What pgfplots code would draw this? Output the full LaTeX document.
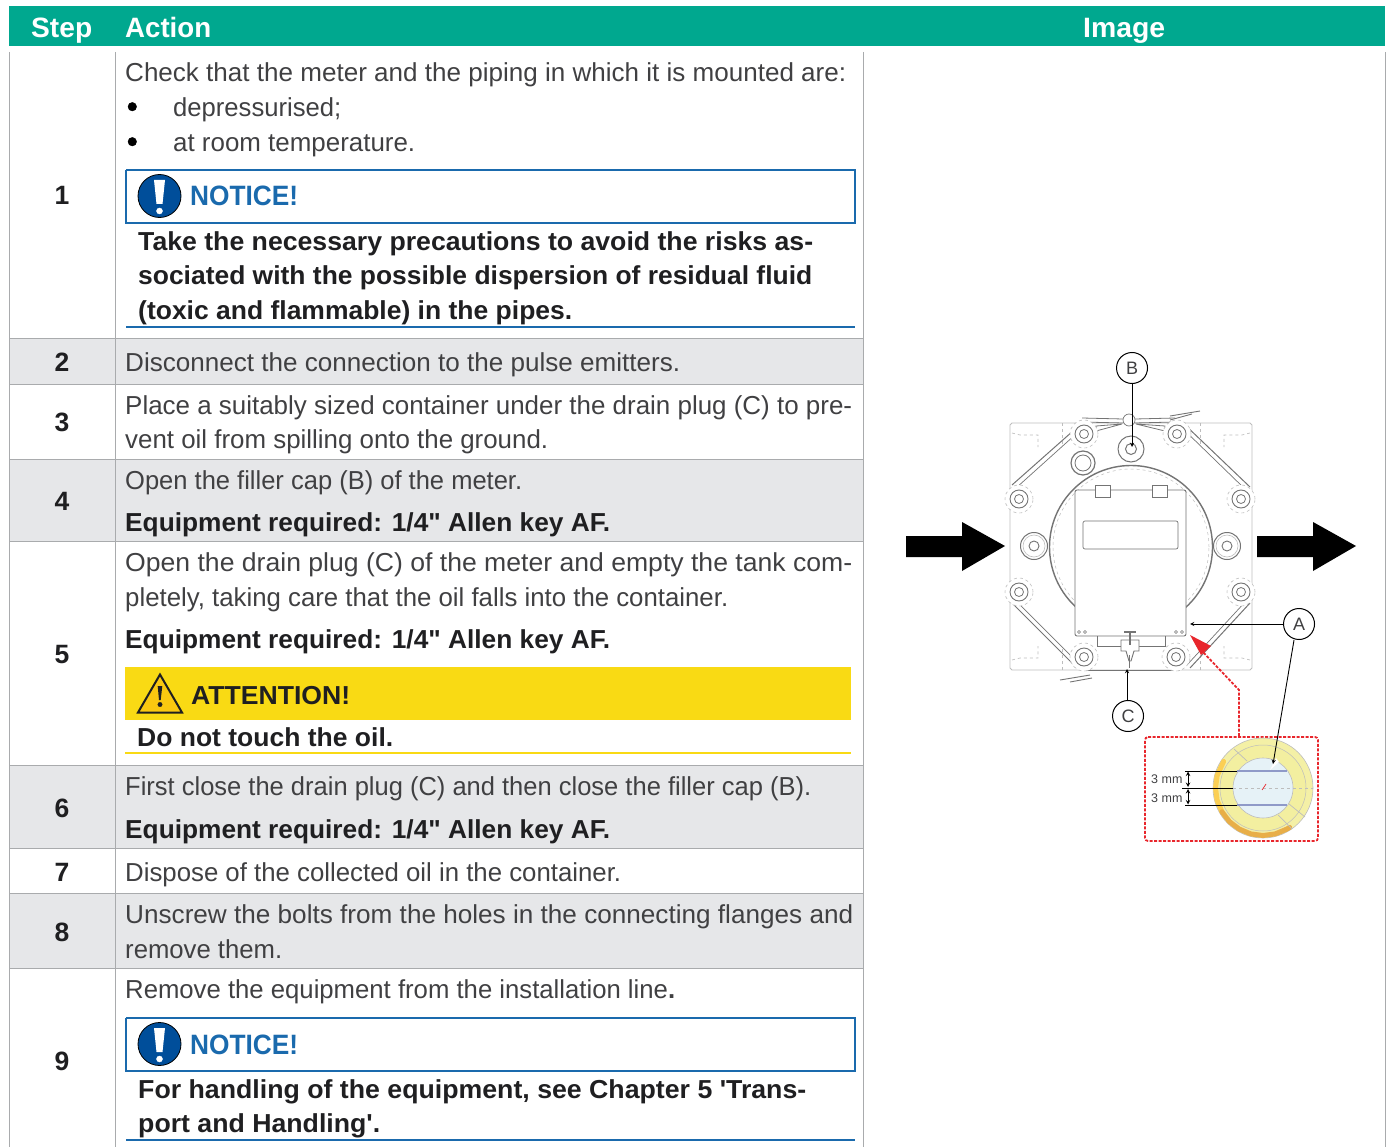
\documentclass[border=0pt]{standalone}
\usepackage{graphicx}
\usepackage{pgfplots}
\pgfplotsset{compat=1.18}
\usepackage{fontspec}
\setmainfont{Liberation Sans}[Ligatures=TeXOff]
\definecolor{hdr}{HTML}{00A88F}
\definecolor{rowg}{HTML}{E6E7E9}
\definecolor{rule}{HTML}{A9ABAD}
\definecolor{nblue}{HTML}{1A6AAD}
\definecolor{cblue}{HTML}{004E9A}
\definecolor{yel}{HTML}{F9DA14}
\definecolor{txt}{HTML}{404042}
\definecolor{btxt}{HTML}{1F1F21}
\definecolor{dred}{HTML}{E8262C}
\definecolor{mg}{HTML}{747474}
\definecolor{lg}{HTML}{BDBDBD}
\definecolor{ringa}{HTML}{F4F0A6}
\definecolor{ringb}{HTML}{F3EFA0}
\definecolor{orga}{HTML}{FBCF55}
\definecolor{orgb}{HTML}{E8AE48}
\definecolor{bore}{HTML}{E6F2F7}
\definecolor{cut}{HTML}{8F9AC8}
\pgfplotsset{pxaxis/.style={scale only axis,width=1389pt,height=1147pt,xmin=0,xmax=1389,ymin=0,ymax=1147,y dir=reverse,axis lines=none,clip=false}}
\newcommand{\Ln}[2]{\addplot[no marks,#1] coordinates {#2};}
\newcommand{\Pg}[2]{\addplot[no marks,draw=none,#1] coordinates {#2} -- cycle;}
\newcommand{\Ci}[5]{\addplot[only marks,mark=*,mark size=#3,mark options={#4,#5}] coordinates {(#1,#2)};}
% text line fitted to its width in the reference: x, baseline, width, text
\newcommand{\Fit}[6]{\node[anchor=base west,inner sep=0pt,text=#5,font=\fontsize{26}{30}\selectfont#6] at (axis cs:#1,#2) {\resizebox{#3pt}{\height}{#4}};}
\newcommand{\T}[4]{\Fit{#1}{#2}{#3}{#4}{txt}{}}
\newcommand{\B}[4]{\Fit{#1}{#2}{#3}{#4}{btxt}{\bfseries}}
\newcommand{\Hd}[4]{\Fit{#1}{#2}{#3}{#4}{white}{\fontsize{28}{30}\selectfont\bfseries}}
\newcommand{\N}[2]{\node[anchor=base,inner sep=0pt,text=btxt,font=\fontsize{26.5}{30}\selectfont\bfseries] at (axis cs:62,#1) {#2};}
\newcommand{\Bolt}[2]{\Ci{#1}{#2}{14}{draw=lg,line width=.6pt,dashed}{fill=white}
 \Ci{#1}{#2}{9}{draw=mg,line width=.9pt}{fill=white}
 \Ci{#1}{#2}{4.5}{draw=mg,line width=.8pt}{fill=white}}
\newcommand{\BigBolt}[2]{\Ci{#1}{#2}{13.5}{draw=mg,line width=1pt}{fill=white}
 \Ci{#1}{#2}{11}{draw=lg,line width=.6pt}{fill=white}
 \Ci{#1}{#2}{5}{draw=mg,line width=.9pt}{fill=white}}
\begin{document}
\begin{tikzpicture}
% ===== layer 1 =====
\begin{axis}[pxaxis]
\Ln{draw=white,line width=0pt}{(0,0)(1389,0)(1389,1147)(0,1147)(0,0)}
\Pg{fill=rowg}{(9.5,339)(863,339)(863,384)(9.5,384)}
\Pg{fill=rowg}{(9.5,459)(863,459)(863,541)(9.5,541)}
\Pg{fill=rowg}{(9.5,765)(863,765)(863,848)(9.5,848)}
\Pg{fill=rowg}{(9.5,893)(863,893)(863,968)(9.5,968)}
\Pg{fill=hdr}{(9,6)(1385,6)(1385,46.5)(9,46.5)}
\Ln{draw=rule,line width=1pt}{(9.5,52)(9.5,1147)}
\Ln{draw=rule,line width=1pt}{(115,52)(115,1147)}
\Ln{draw=rule,line width=1pt}{(863,52)(863,1147)}
\Ln{draw=rule,line width=1pt}{(1385,52)(1385,1147)}
\Ln{draw=rule,line width=1pt}{(9.5,338.5)(863,338.5)}
\Ln{draw=rule,line width=1pt}{(9.5,384)(863,384)}
\Ln{draw=rule,line width=1pt}{(9.5,459)(863,459)}
\Ln{draw=rule,line width=1pt}{(9.5,541)(863,541)}
\Ln{draw=rule,line width=1pt}{(9.5,765.5)(863,765.5)}
\Ln{draw=rule,line width=1pt}{(9.5,848)(863,848)}
\Ln{draw=rule,line width=1pt}{(9.5,893)(863,893)}
\Ln{draw=rule,line width=1pt}{(9.5,968.5)(863,968.5)}
\Hd{31}{38}{61}{Step}
\Hd{125}{38}{86}{Action}
\Hd{1083}{38}{82}{Image}
\N{205}{1}\N{371}{2}\N{431}{3}\N{510}{4}\N{663}{5}\N{817}{6}\N{881}{7}\N{941}{8}\N{1070}{9}
\T{125}{82}{721}{Check that the meter and the piping in which it is mounted are:}
\T{173}{117}{168}{depressurised;}
\T{173}{152}{242}{at room temperature.}
\Ci{132.3}{106.7}{4.3}{draw=black}{fill=black}
\Ci{132.3}{141.7}{4.3}{draw=black}{fill=black}
\Ln{draw=nblue,line width=2.4pt}{(126,170)(855,170)(855,223)(126,223)(126,170)}
\Ci{159.5}{196}{21.5}{draw=black,line width=.8pt}{fill=cblue}
\Fit{190}{206}{108}{NOTICE!}{nblue}{\fontsize{28}{30}\selectfont\bfseries}
\B{138}{250}{675}{Take the necessary precautions to avoid the risks as-}
\B{138}{284}{674}{sociated with the possible dispersion of residual fluid}
\B{138}{319}{434}{(toxic and flammable) in the pipes.}
\Ln{draw=nblue,line width=2.4pt}{(126,327)(855,327)}
\T{125}{371}{555}{Disconnect the connection to the pulse emitters.}
\T{125}{414}{727}{Place a suitably sized container under the drain plug (C) to pre-}
\T{125}{448}{423}{vent oil from spilling onto the ground.}
\T{125}{489}{397}{Open the filler cap (B) of the meter.}
\B{125}{531}{485}{Equipment required: 1/4" Allen key AF.}
\T{125}{571}{727}{Open the drain plug (C) of the meter and empty the tank com-}
\T{125}{606}{603}{pletely, taking care that the oil falls into the container.}
\B{125}{648}{485}{Equipment required: 1/4" Allen key AF.}
\Pg{fill=yel}{(125,667)(851,667)(851,720)(125,720)}
\Pg{draw=btxt,line width=2pt,fill=yel!80!orange}{(160,674.5)(182,712.5)(138,712.5)}
\Pg{fill=btxt}{(157.7,686)(162.3,686)(160.7,700)(159,700)}
\Ci{160}{704.5}{2.2}{draw=btxt}{fill=btxt}
\Fit{191}{704}{159}{ATTENTION!}{btxt}{\bfseries}
\B{137}{746}{256}{Do not touch the oil.}
\Ln{draw=yel,line width=2.6pt}{(125,753)(851,753)}
\T{125}{795}{686}{First close the drain plug (C) and then close the filler cap (B).}
\B{125}{838}{485}{Equipment required: 1/4" Allen key AF.}
\T{125}{881}{496}{Dispose of the collected oil in the container.}
\T{125}{923}{728}{Unscrew the bolts from the holes in the connecting flanges and}
\T{125}{958}{157}{remove them.}
\T{125}{998}{550}{Remove the equipment from the installation line\textbf{.}}
\Ln{draw=nblue,line width=2.4pt}{(126,1018)(855,1018)(855,1071)(126,1071)(126,1018)}
\Ci{159.5}{1044}{21.5}{draw=black,line width=.8pt}{fill=cblue}
\Fit{190}{1054}{108}{NOTICE!}{nblue}{\fontsize{28}{30}\selectfont\bfseries}
\B{138}{1098}{668}{For handling of the equipment, see Chapter 5 'Trans-}
\B{138}{1132}{242}{port and Handling'.}
\Ln{draw=nblue,line width=2.4pt}{(126,1140)(855,1140)}
% meter drawing, under-layer
\Ln{draw=lg,line width=.9pt}{(1012,423)(1250,423)(1252,425)(1252,668)(1250,670)(1012,670)(1010,668)(1010,425)(1012,423)}
\Ln{draw=lg,line width=.7pt,dashed}{(1012,433)(1020,435)(1038,435)(1038,447)}
\Ln{draw=lg,line width=.7pt,dashed}{(1250,433)(1242,435)(1224,435)(1224,447)}
\Ln{draw=lg,line width=.7pt,dashed}{(1012,660)(1020,658)(1038,658)(1038,646)}
\Ln{draw=lg,line width=.7pt,dashed}{(1250,660)(1242,658)(1224,658)(1224,646)}
\Ln{draw=lg,line width=.7pt,dashed}{(1062,423)(1062,445)}
\Ln{draw=lg,line width=.7pt,dashed}{(1200,423)(1200,445)}
\Ln{draw=lg,line width=.7pt,dashed}{(1062,670)(1062,648)}
\Ln{draw=lg,line width=.7pt,dashed}{(1200,670)(1200,648)}
\Ln{draw=mg,line width=1pt}{(1082,423)(1012,485)}
\Ln{draw=mg,line width=.7pt}{(1086,425)(1016,488)}
\Ln{draw=mg,line width=1pt}{(1183,423)(1250,487)}
\Ln{draw=mg,line width=.7pt}{(1179,425)(1246,490)}
\Ln{draw=mg,line width=1pt}{(1012,603)(1077,668)}
\Ln{draw=mg,line width=.7pt}{(1016,601)(1081,666)}
\Ln{draw=mg,line width=1pt}{(1250,603)(1190,668)}
\Ln{draw=mg,line width=.7pt}{(1246,601)(1186,666)}
\Ln{draw=mg,line width=.8pt}{(1082,418)(1123,419)}
\Ln{draw=mg,line width=.8pt}{(1082,422)(1123,423)}
\Ln{draw=mg,line width=.8pt}{(1135,419)(1175,418)}
\Ln{draw=mg,line width=.8pt}{(1135,423)(1175,422)}
\Ln{draw=mg,line width=.8pt}{(1096,431)(1122,424)(1096,426)(1096,431)}
\Ln{draw=mg,line width=.8pt}{(1165,431)(1136,424)(1165,426)(1165,431)}
\Ln{draw=mg,line width=.9pt}{(1170,416)(1200,411)}
\Ln{draw=mg,line width=.9pt}{(1170,420)(1192,414)}
\Ln{draw=mg,line width=.9pt}{(1060,680)(1090,675)}
\Ln{draw=mg,line width=.9pt}{(1070,682)(1092,678)}
\Ln{draw=mg,line width=.8pt}{(1082,670)(1180,670)}
\Ci{1129}{420}{6}{draw=mg,line width=.7pt}{fill=white}
\Bolt{1084}{434}\Bolt{1177}{434}\Bolt{1019}{499}\Bolt{1241}{499}
\Bolt{1019}{592}\Bolt{1241}{592}\Bolt{1084}{657}\Bolt{1176}{657}
\Ci{1131}{449}{13}{draw=mg,line width=1pt}{fill=white}
\Ci{1131}{449}{5.5}{draw=mg,line width=1pt}{fill=white}
\Ci{1083}{463}{12}{draw=mg,line width=1.2pt}{fill=white}
\Ci{1083}{463}{8}{draw=mg,line width=.8pt}{fill=white}
\Ci{1131}{547}{81.5}{draw=mg,line width=1.4pt}{fill=white}
\Ci{1131}{547}{78}{draw=lg,line width=.5pt,dashed}{fill=white}
\BigBolt{1034}{546}\BigBolt{1227}{546}
\end{axis}
% ===== layer 2 =====
\begin{axis}[pxaxis]
\Pg{fill=white}{(154,180)(165,180)(162.5,204)(156.5,204)}
\Ci{159.5}{211}{3}{draw=white}{fill=white}
\Pg{fill=white}{(154,1028)(165,1028)(162.5,1052)(156.5,1052)}
\Ci{159.5}{1059}{3}{draw=white}{fill=white}
\Pg{draw=mg,line width=.9pt,fill=white,rounded corners=2pt}{(1075,490)(1186,490)(1186,636)(1075,636)}
\Pg{draw=mg,line width=.7pt,fill=white,rounded corners=2pt}{(1083,521)(1178,521)(1178,549)(1083,549)}
\Pg{draw=mg,line width=.7pt,fill=white}{(1095,485)(1110,485)(1110,497)(1095,497)}
\Pg{draw=mg,line width=.7pt,fill=white}{(1152,485)(1167,485)(1167,497)(1152,497)}
\Ln{draw=mg,line width=.8pt}{(1097,636)(1097,646)(1165,646)(1165,636)}
\Pg{draw=mg,line width=.9pt,fill=white}{(1121,640)(1139,640)(1139,651)(1134,651)(1131,661)(1129,661)(1126,651)(1121,651)}
\Ln{draw=mg,line width=1.2pt}{(1124,632)(1136,632)}
\Ln{draw=mg,line width=1.2pt}{(1130,632)(1130,645)}
\Ln{draw=mg,line width=1pt}{(1129,655)(1129,668)}
\Pg{fill=black}{(906,536)(962,536)(962,522)(1005,546)(962,571)(962,557)(906,557)}
\Pg{fill=black}{(1257,536)(1313,536)(1313,522)(1356,546)(1313,571)(1313,557)(1257,557)}
\Ln{draw=dred,line width=1.8pt,dash pattern=on 3pt off 1.5pt}{(1239,736)(1239,690)(1201,650)}
\Pg{fill=dred}{(1190,635)(1211,646)(1201,655)}
\Pg{draw=dred,line width=1.8pt,dash pattern=on 3pt off 1.5pt,rounded corners=3pt}{(1145,737)(1318,737)(1318,841)(1145,841)}
\Ci{1079}{632}{1.5}{draw=mg,line width=.5pt}{fill=white}
\Ci{1085}{632}{1.5}{draw=mg,line width=.5pt}{fill=white}
\Ci{1176}{632}{1.5}{draw=mg,line width=.5pt}{fill=white}
\Ci{1182}{632}{1.5}{draw=mg,line width=.5pt}{fill=white}
\Ci{1263}{788}{50}{draw=lg,line width=.6pt}{fill=ringa}
\end{axis}
% ===== layer 3 =====
\begin{axis}[pxaxis]
\Ln{draw=orga,line width=5pt,line cap=round}{(1223.6,761.4)(1217.1,775.7)(1215.5,788)(1217.1,800.3)(1221.9,811.75)}
\Ln{draw=orgb,line width=5pt,line cap=round}{(1221.9,811.75)(1229.4,821.6)(1239.25,829.1)(1250.7,833.9)(1263,835.5)(1275.3,833.9)(1286.75,829.1)(1289.6,827.4)}
\Ln{draw=black,line width=.9pt,-stealth}{(1132,384)(1132,447)}
\Ln{draw=black,line width=.9pt,-stealth}{(1127,700)(1127,669)}
\Ln{draw=black,line width=.9pt,-stealth}{(1284,624)(1190,624)}
\Ci{1132}{368}{15.5}{draw=black,line width=1pt}{fill=white}
\Ci{1299}{624}{15.5}{draw=black,line width=1pt}{fill=white}
\Ci{1128}{716}{15.5}{draw=black,line width=1pt}{fill=white}
\Ci{1263}{788}{43}{draw=lg,line width=.5pt}{fill=ringb}
\end{axis}
% ===== layer 4 =====
\begin{axis}[pxaxis]
\Ln{draw=lg,line width=.7pt}{(1234,749)(1247,761)}
\Ln{draw=lg,line width=.7pt}{(1278,815)(1292,829)}
\Ln{draw=lg,line width=.7pt}{(1289,804)(1305,817)}
\Ci{1263}{788}{30}{draw=lg,line width=.6pt}{fill=bore}
\end{axis}
% ===== layer 5 =====
\begin{axis}[pxaxis]
\Ln{draw=black,line width=.7pt}{(1185,771)(1237,771)}
\Ln{draw=cut,line width=1.2pt}{(1237,771)(1287,771)}
\Ln{draw=black,line width=.7pt}{(1182,788)(1233,788)}
\Ln{draw=lg,line width=.6pt,dashed}{(1233,788)(1313,788)}
\Ln{draw=black,line width=.7pt}{(1185,805)(1237,805)}
\Ln{draw=cut,line width=1.2pt}{(1237,805)(1287,805)}
\Ln{draw=black,line width=1pt,stealth-stealth}{(1188,771.5)(1188,787)}
\Ln{draw=black,line width=1pt,stealth-stealth}{(1188,789)(1188,804.5)}
\Ln{draw=dred,line width=.7pt}{(1262,790)(1266,784)}
\Pg{fill=white}{(1270,770)(1276,758)(1279,762)}
\Ln{draw=black,line width=.9pt,-stealth}{(1294,640)(1273,764)}
\node[anchor=base west,inner sep=0pt,text=txt,font=\fontsize{12.5}{14}\selectfont] at (axis cs:1151,783) {3 mm};
\node[anchor=base west,inner sep=0pt,text=txt,font=\fontsize{12.5}{14}\selectfont] at (axis cs:1151,802) {3 mm};
\node[inner sep=0pt,text=txt,font=\fontsize{18}{20}\selectfont] at (axis cs:1132,368) {B};
\node[inner sep=0pt,text=txt,font=\fontsize{18}{20}\selectfont] at (axis cs:1299,624) {A};
\node[inner sep=0pt,text=txt,font=\fontsize{18}{20}\selectfont] at (axis cs:1128,716) {C};
\end{axis}
\end{tikzpicture}
\end{document}
